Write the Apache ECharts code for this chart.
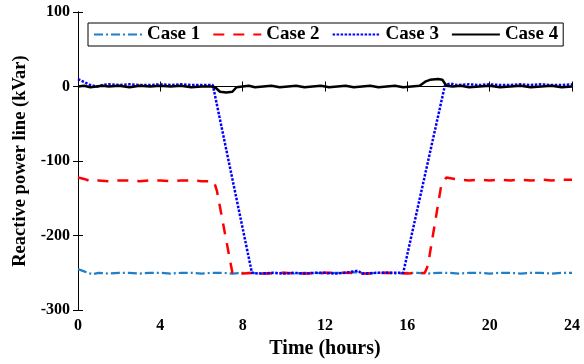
<!DOCTYPE html>
<html>
<head>
<meta charset="utf-8">
<script src="https://cdn.jsdelivr.net/npm/echarts@6/dist/echarts.min.js"></script>
<style>
  html, body { margin: 0; padding: 0; background: #fff; }
  #chart { width: 584px; height: 364px; }
</style>
</head>
<body>
<div id="chart"></div>
<script>
// Reactive power on the line over one day, four operating cases.
const seriesNames = ['Case 1', 'Case 2', 'Case 3', 'Case 4'];
const xTicks = [0, 4, 8, 12, 16, 20, 24];
const yTicks = [-300, -200, -100, 0, 100];

// [hour, kVar]
const case1 = [
  [0, -245], [0.3, -248], [0.7, -252], [1, -250], [1.5, -251], [2, -250], [2.5, -250],
  [3, -251], [3.5, -250], [4, -250], [4.5, -251], [5, -250], [5.5, -250], [6, -251],
  [6.5, -250], [7, -250], [7.5, -251], [8, -250], [8.5, -250], [9, -251], [9.5, -250],
  [10, -250], [10.5, -251], [11, -250], [11.5, -250], [12, -251], [12.5, -250], [13, -250],
  [13.5, -249], [14, -251], [14.5, -250], [15, -250], [15.5, -251], [16, -250], [16.5, -250],
  [17, -251], [17.5, -250], [18, -250], [18.5, -251], [19, -250], [19.5, -250], [20, -251],
  [20.5, -250], [21, -250], [21.5, -251], [22, -250], [22.5, -250], [23, -251], [23.5, -250],
  [24, -250]
];
const case2 = [
  [0, -122], [0.3, -124], [0.6, -127], [1, -126], [1.5, -127], [2, -126], [2.5, -126],
  [3, -127], [3.5, -126], [4, -126], [4.5, -127], [5, -126], [5.5, -126], [6, -127],
  [6.6, -127], [6.75, -140], [7.5, -250], [7.7, -253], [8, -251], [8.5, -250], [9, -251],
  [10, -250], [11, -251], [12, -250], [13, -250], [14, -251], [15, -250], [16, -251],
  [16.85, -250], [17.0, -240], [17.65, -132], [17.9, -122], [18.3, -124], [19, -126],
  [19.5, -125], [20, -126], [20.5, -125], [21, -126], [21.5, -125], [22, -126], [22.5, -125],
  [23, -126], [23.5, -125], [24, -125]
];
const case3 = [
  [0, 10], [0.3, 6], [0.6, 2], [0.9, 0], [1.2, 2], [1.5, 3], [2, 2], [2.5, 3], [3, 2],
  [3.5, 2], [4, 3], [4.5, 2], [5, 3], [5.5, 2], [6, 2], [6.55, 2], [8.45, -250], [8.8, -251],
  [9.5, -250], [10, -251], [10.5, -250], [11, -251], [11.5, -250], [12, -250], [12.5, -251],
  [13, -250], [13.4, -248], [13.6, -247], [13.8, -251], [14.5, -250], [15, -250], [15.8, -250],
  [17.83, 2], [18.1, 4], [18.4, 2], [19, 3], [19.5, 2], [20, 3], [20.5, 2], [21, 2],
  [21.5, 3], [22, 2], [22.5, 3], [23, 2], [23.5, 2], [24, 3]
];
const case4 = [
  [0, 0], [0.3, 1], [0.6, -1], [0.9, 0], [1.2, 1], [1.5, 0], [2, 1], [2.5, -1], [3, 1],
  [3.5, 0], [4, 1], [4.5, 0], [5, 1], [5.5, -1], [6, 0], [6.5, 0], [6.7, -2], [6.9, -7],
  [7.2, -8], [7.5, -7], [7.7, -1], [8, 0], [8.3, 1], [8.6, -1], [9, 0], [9.4, 1], [9.8, -1],
  [10.2, 0], [10.6, 1], [11, -1], [11.4, 0], [11.8, 1], [12.2, -1], [12.6, 0], [13, 1],
  [13.4, -1], [13.8, 0], [14.2, 1], [14.6, -1], [15, 0], [15.4, 1], [15.8, -1], [16.2, 0],
  [16.6, 1], [16.9, 7], [17.1, 9], [17.5, 10], [17.7, 9], [17.9, 1], [18.2, 0], [18.6, 1],
  [19, -1], [19.5, 0], [20, 1], [20.5, -1], [21, 0], [21.5, 1], [22, -1], [22.5, 0],
  [23, 1], [23.5, -1], [24, 0]
];

const serif = '"Liberation Serif", "DejaVu Serif", serif';

const chart = echarts.init(document.getElementById('chart'), null, { renderer: 'canvas' });

function mkSeries(name, data, color, type, width) {
  return {
    name, type: 'line', data, showSymbol: false, symbol: 'none',
    lineStyle: { color, type, width }, itemStyle: { color },
    animation: false
  };
}

const tickStyle = { show: true, inside: true, length: 5, lineStyle: { color: '#000' } };

chart.setOption({
  backgroundColor: '#fff',
  grid: { left: 78, right: 12, top: 12, bottom: 52 },
  legend: {
    left: 88, top: 23,
    padding: [2, 5],
    itemWidth: 48, itemHeight: 18, itemGap: 12,
    borderColor: '#000', borderWidth: 1,
    itemStyle: { opacity: 0 },
    textStyle: { fontFamily: serif, fontWeight: 'bold', fontSize: 19, color: '#000' },
    data: seriesNames
  },
  xAxis: [{
    type: 'value', min: 0, max: 24, interval: 4,
    name: 'Time (hours)', nameLocation: 'middle', nameGap: 27,
    nameTextStyle: { fontFamily: serif, fontWeight: 'bold', fontSize: 20, color: '#000' },
    axisLine: { show: true, lineStyle: { color: '#000' } },
    axisTick: tickStyle,
    axisLabel: { fontFamily: serif, fontWeight: 'bold', fontSize: 16, color: '#000', margin: 8,
      customValues: xTicks },
    splitLine: { show: false }
  }, {
    type: 'value', min: 0, max: 24, interval: 4, position: 'top',
    axisLine: { show: true, lineStyle: { color: '#000' } },
    axisTick: tickStyle, axisLabel: { show: false }, splitLine: { show: false }
  }],
  yAxis: [{
    type: 'value', min: -300, max: 100, interval: 100,
    name: 'Reactive power line (kVar)', nameLocation: 'middle', nameGap: 47,
    nameTextStyle: { fontFamily: serif, fontWeight: 'bold', fontSize: 18.5, color: '#000' },
    axisLine: { show: true, lineStyle: { color: '#000' } },
    axisTick: tickStyle,
    axisLabel: { fontFamily: serif, fontWeight: 'bold', fontSize: 16, color: '#000', margin: 8,
      customValues: yTicks },
    splitLine: { show: false }
  }, {
    type: 'value', min: -300, max: 100, interval: 100, position: 'right',
    axisLine: { show: true, lineStyle: { color: '#000' } },
    axisTick: tickStyle, axisLabel: { show: false }, splitLine: { show: false }
  }],
  series: [
    mkSeries('Case 1', case1, '#1f7fc8', [9, 3, 2, 3], 2.2),
    mkSeries('Case 2', case2, '#ff0000', [11, 9], 2.5),
    mkSeries('Case 3', case3, '#0000ff', [2.5, 1.5], 2.5),
    mkSeries('Case 4', case4, '#000000', 'solid', 2.5)
  ]
});
</script>
</body>
</html>
